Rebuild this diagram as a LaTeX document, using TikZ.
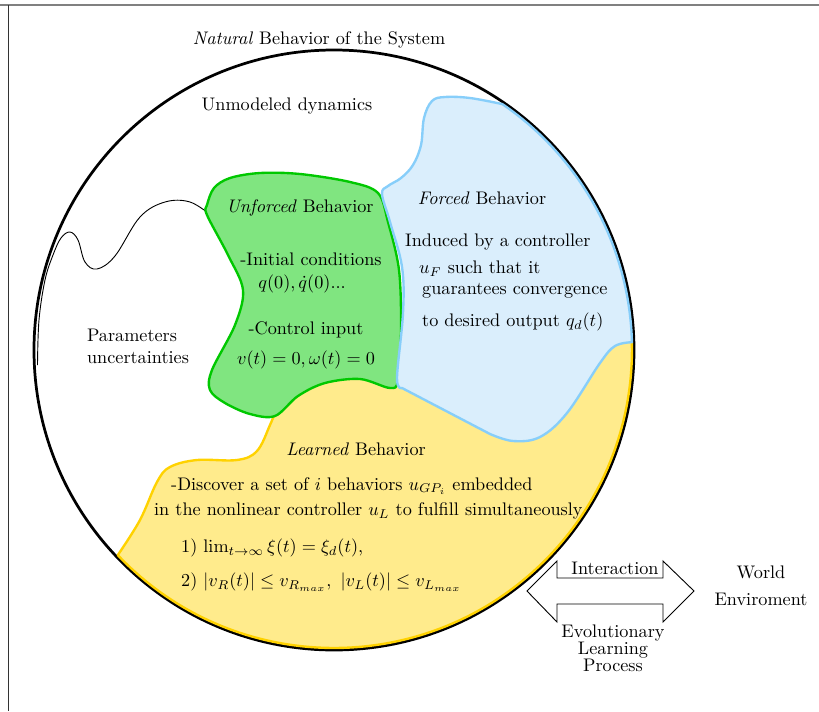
\documentclass[tikz,border=0pt]{standalone}
\usepackage{amsmath}

\definecolor{unforcedfill}{RGB}{128,229,128}
\definecolor{unforcedline}{RGB}{0,200,0}
\definecolor{forcedfill}{RGB}{218,238,252}
\definecolor{forcedline}{RGB}{135,206,250}
\definecolor{learnedfill}{RGB}{255,235,140}
\definecolor{learnedline}{RGB}{255,210,0}

\tikzset{
  zone/.style={line width=1.3pt, line join=round},
  unforcedzone/.style={zone, fill=unforcedfill, draw=unforcedline},
  forcedzone/.style={zone, fill=forcedfill, draw=forcedline},
  learnedzone/.style={zone, fill=learnedfill, draw=learnedline},
  every node/.style={inner sep=1pt},
}

\begin{document}
\begin{tikzpicture}[x=0.0193cm, y=-0.0193cm]
\useasboundingbox (0,0) rectangle (819,711);
% frame
\draw[gray, line width=1pt] (0,5) -- (819,5);
\draw[black!80, line width=0.5pt] (8,5) -- (8,711);

% natural behavior
\draw[line width=1.5pt] (334,350) circle (300);
\draw[line width=0.5pt] plot[smooth, tension=0.6] coordinates {(37.5,365) (39,320) (45,280) (53,255) (61,238) (70,232) (78,240) (85,262) (97,269) (115,256) (140,217) (165,202) (190,202) (212,216)};

% learned
\filldraw[learnedzone] (117.8,555.1) arc[start angle=136.5, end angle=-1.5, radius=298]
  -- (600,322) -- (420,345) -- (395,372) -- (300,380) -- (278,405)
  -- plot[smooth, tension=0.6] coordinates {(278,405) (270,425) (257,451) (237,460) (197,460) (170,467) (157,482) (140,520) (117.8,555.1)} -- cycle;

% unforced
\filldraw[unforcedzone] plot[smooth cycle, tension=0.55] coordinates {(207,205) (214,188) (230,178) (260,173) (300,174) (350,182) (378,193) (388,222) (399,270) (401,330) (398,380) (390,388) (360,379) (325,383) (298,396) (275,416) (250,414) (225,403) (210,390) (212,370) (235,325) (243,290) (228,255) (207,215)};

% forced
\filldraw[forcedzone] (502.4,104.1) arc[start angle=-55.6, end angle=-1.5, radius=298]
  -- plot[smooth, tension=0.6] coordinates {(631.9,342.2) (615,346) (600,363) (567,413) (540,437) (513,441) (490,434)}
  -- (402,388)
  -- plot[smooth, tension=0.6] coordinates {(402,388) (397,378) (403,313) (402,267) (390,222) (382,194) (388,186) (401,178) (413,165) (421,145) (424,118) (432,101) (445,97) (470,98) (502.4,104.1)} -- cycle;

% texts
\node (natural) at (319,40) {\textit{Natural} Behavior of the System};
\node (unmodeled) at (287,106) {Unmodeled dynamics};
\node[align=left] (params) at (138,346) {Parameters\\uncertainties};

\node (unforced) at (300,208) {\textit{Unforced} Behavior};
\node (initial) at (311,259) {-Initial conditions};
\node (initval) at (302,284) {$q(0),\dot{q}(0)$...};
\node (control) at (306,330) {-Control input};
\node (controlval) at (306,360) {$v(t)=0,\omega(t)=0$};

\node (forced) at (482,198) {\textit{Forced} Behavior};
\node[anchor=west] (induced) at (403,242) {Induced by a controller};
\node[anchor=west] (uf) at (417,269) {$u_F$ such that it};
\node[anchor=west] (guarantee) at (420,291) {guarantees convergence};
\node[anchor=west] (desired) at (420,322) {to desired output $q_d(t)$};

\node (learned) at (356,449) {\textit{Learned} Behavior};
\node[anchor=west] (discover) at (169,486) {-Discover a set of $i$ behaviors $u_{GP_i}$ embedded};
\node[anchor=west] (nonlinear) at (152,511) {in the nonlinear controller $u_L$ to fulfill simultaneously};
\node[anchor=west] (cond1) at (179,548) {1) $\lim_{t\to\infty}\xi(t)=\xi_d(t)$,};
\node[anchor=west] (cond2) at (179,582) {2) $|v_R(t)|\le v_{R_{max}},\ |v_L(t)|\le v_{L_{max}}$};

% interaction arrow
\draw[line width=0.5pt] (527,591) -- (557,561) -- (557,578) -- (663,578) -- (663,561) -- (694,591)
  -- (663,622) -- (663,604) -- (557,604) -- (557,622) -- cycle;
\node (interaction) at (615,568) {Interaction};
\node[align=center, font=\fontsize{10pt}{9.3pt}\selectfont] (evolution) at (613,648) {Evolutionary\\Learning\\Process};
\node[align=center] (world) at (761,586) {World\\[3pt]Enviroment};
\end{tikzpicture}
\end{document}
